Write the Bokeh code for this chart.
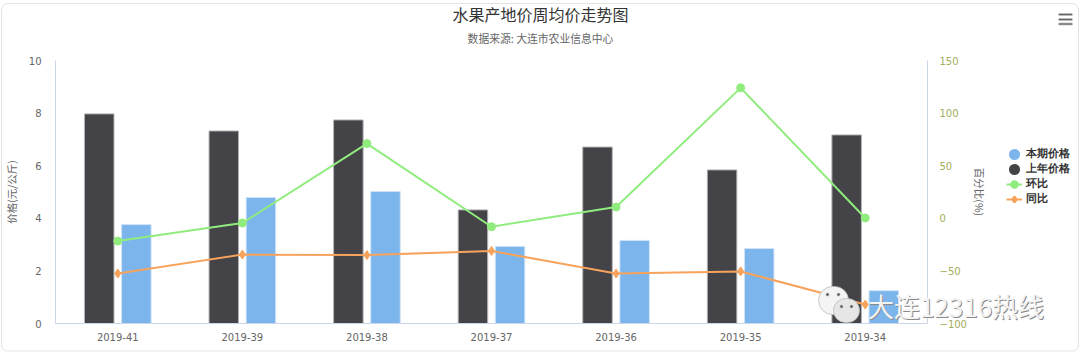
from bokeh.plotting import figure
from bokeh.layouts import column
from bokeh.models import (Range1d, LinearAxis, SingleIntervalTicker, Legend, LegendItem, Label,
                          BoxAnnotation, FactorRange, ColumnDataSource)
from bokeh.transform import dodge
from bokeh.embed import file_html
from bokeh.resources import INLINE

weeks = ["2019-41", "2019-39", "2019-38", "2019-37", "2019-36", "2019-35", "2019-34"]
this_price = [3.76, 4.79, 5.02, 2.93, 3.16, 2.85, 1.25]
last_price = [7.97, 7.32, 7.74, 4.32, 6.71, 5.84, 7.17]
hb = [-21.6, -4.5, 71, -8, 10.7, 124, 0.3]
tb = [-52.5, -34.5, -35, -31, -52.5, -50.5, -82]

BLUE, DARK, GREEN, ORANGE = "#7cb5ec", "#434348", "#90ed7d", "#f7a35c"
CJK = "Noto Sans CJK SC"
NUM = "DejaVu Sans"
W, H = 1080, 353
FL, FT, FW, FH = 53, 60, 872, 263  # frame position inside the figure

src = ColumnDataSource(dict(week=weeks, this=this_price, last=last_price, hb=hb, tb=tb))

p = figure(width=W, height=H, output_backend="svg", toolbar_location=None,
           x_range=FactorRange(factors=weeks), y_range=Range1d(0, 10),
           frame_width=FW, frame_height=FH, frame_align=False,
           min_border_left=FL, min_border_right=W - FL - FW, min_border_top=FT,
           min_border_bottom=H - FT - FH,
           outline_line_color=None, background_fill_color="white", border_fill_color="white")
p.extra_y_ranges = {"pct": Range1d(-100, 150)}
p.xgrid.visible = False
p.ygrid.visible = False

p.vbar(x=dodge("week", -0.149, range=p.x_range), top="last", bottom=0, width=0.237, source=src,
       fill_color=DARK, line_color="#b4b4b6", line_width=1)
p.vbar(x=dodge("week", 0.149, range=p.x_range), top="this", bottom=0, width=0.237, source=src,
       fill_color=BLUE, line_color="#cfe3f8", line_width=1)
p.line("week", "hb", source=src, y_range_name="pct", line_color=GREEN, line_width=2)
p.scatter("week", "hb", source=src, y_range_name="pct", marker="circle", size=8,
          fill_color=GREEN, line_color=GREEN)
p.line("week", "tb", source=src, y_range_name="pct", line_color=ORANGE, line_width=2)
p.scatter("week", "tb", source=src, y_range_name="pct", marker="diamond", size=9,
          fill_color=ORANGE, line_color=ORANGE)

AXIS = "#ccd6eb"
def style(ax, color):
    ax.axis_line_color = AXIS
    ax.major_tick_line_color = None
    ax.minor_tick_line_color = None
    ax.major_tick_out = 0
    ax.major_tick_in = 0
    ax.minor_tick_out = 0
    ax.minor_tick_in = 0
    ax.major_label_text_color = color
    ax.major_label_text_font = NUM
    ax.major_label_text_font_size = "10px"
    ax.axis_label_text_color = "#666666"
    ax.axis_label_text_font = CJK
    ax.axis_label_text_font_size = "10.5px"
    ax.axis_label_text_font_style = "normal"

xa = p.xaxis[0]
style(xa, "#666666")
xa.major_label_standoff = 9
ya = p.yaxis[0]
style(ya, "#666666")
ya.ticker = SingleIntervalTicker(interval=2)
ya.major_label_standoff = 14
ya.axis_label = "价格(元/公斤)"
ya.axis_label_standoff = 7
ra = LinearAxis(y_range_name="pct", ticker=SingleIntervalTicker(interval=50))
style(ra, "#a3ad5c")
ra.major_label_standoff = 12
ra.axis_label = "百分比(%)"
ra.axis_label_standoff = 2
p.add_layout(ra, "right")

# transparent sheet over the chart, one data unit per page pixel, for what lies outside the plot frame
q = figure(width=W, height=H, output_backend="svg", toolbar_location=None,
           x_range=Range1d(0, W), y_range=Range1d(H, 0), x_axis_location=None, y_axis_location=None,
           min_border=0, outline_line_color=None, background_fill_alpha=0, border_fill_alpha=0,
           margin=(-H, 0, 0, 0), frame_align=False)
q.xgrid.visible = False
q.ygrid.visible = False

# legend keys only: a NaN point draws nothing on the sheet but still gives the legend its glyph
nokey = ColumnDataSource(dict(x=[float("nan")], y=[float("nan")]))
lb = q.scatter("x", "y", source=nokey, marker="circle", fill_color=BLUE, line_color=BLUE, line_width=5.5)
ld = q.scatter("x", "y", source=nokey, marker="circle", fill_color=DARK, line_color=DARK, line_width=5.5)
lg1 = q.line("x", "y", source=nokey, line_color=GREEN, line_width=2)
lg2 = q.scatter("x", "y", source=nokey, marker="circle", fill_color=GREEN, line_color=GREEN, line_width=3)
lo1 = q.line("x", "y", source=nokey, line_color=ORANGE, line_width=2)
lo2 = q.scatter("x", "y", source=nokey, marker="diamond", fill_color=ORANGE, line_color=ORANGE, line_width=2.5)
legend = Legend(items=[LegendItem(label="本期价格", renderers=[lb]),
                       LegendItem(label="上年价格", renderers=[ld]),
                       LegendItem(label="环比", renderers=[lg1, lg2]),
                       LegendItem(label="同比", renderers=[lo1, lo2])],
                location=(1006, 147), margin=0, padding=0, spacing=0,
                glyph_width=16, glyph_height=14, label_height=14, label_standoff=4,
                border_line_color=None, background_fill_alpha=0,
                label_text_font="Liberation Sans", label_text_font_size="11px", label_text_font_style="bold",
                label_text_color="#333333")
q.add_layout(legend, "center")

def label(txt, cx, cy, size, color, style="normal", align="center"):
    q.add_layout(Label(x=cx, y=cy, text=txt,
                       text_font=CJK, text_font_size=size, text_color=color, text_font_style=style,
                       text_align=align, text_baseline="middle"))

def box(l, r, t, b, color, radius=0, line="#bdbdbd", fill_alpha=1):
    q.add_layout(BoxAnnotation(left=l, right=r, top=t, bottom=b,
                               fill_color=color, fill_alpha=fill_alpha, line_color=line,
                               line_alpha=0.8, border_radius=radius))

# card outline of the page the chart sits on
box(1, 1078, 3, 350.5, "#ffffff", 6, line="#dedcd6", fill_alpha=0)

label("水果产地价周均价走势图", 540, 13, "16px", "#333333")
label("数据来源: 大连市农业信息中心", 540, 37, "10.8px", "#666666")

for yy in (14, 19, 23.5):
    box(1058, 1072, yy - 1, yy + 1, "#666666", 1)

box(818, 848, 286, 314, "#f4f4f4", 14)
box(833, 859, 298, 322, "#e6e6e6", 12)
for ex, ey in ((827, 294), (838, 294), (841, 306), (851, 306)):
    box(ex - 1.5, ex + 1.5, ey - 1.5, ey + 1.5, "#444444", 2)
label("大连12316热线", 956.5, 306, "26px", "#8a8a8a")
label("大连12316热线", 955.5, 305, "26px", "#f4f4f4")

open("out.html", "w").write(file_html(column(p, q), INLINE))
